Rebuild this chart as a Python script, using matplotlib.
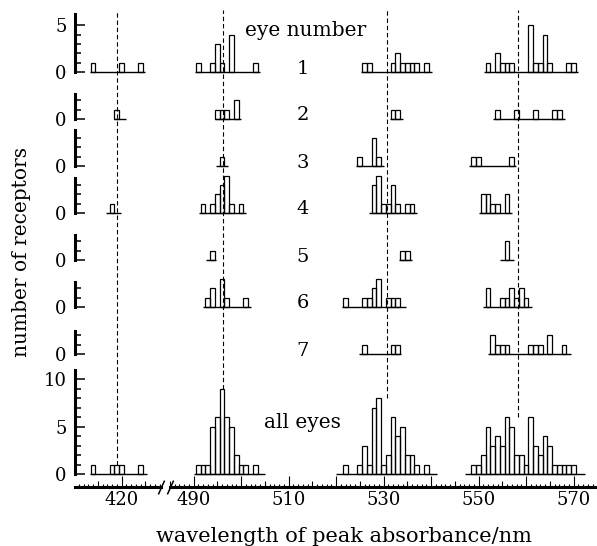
import matplotlib
matplotlib.use('Agg')
import matplotlib.pyplot as plt

plt.rcParams['font.family'] = 'DejaVu Serif'

# ---- data (wavelength of each bar in nm, and number of receptors) ----
eye_labels = ['1', '2', '3', '4', '5', '6', '7']
peak_nm = [419.0, 496.3, 530.8, 558.4]

blue_nm = [[414, 420, 424], [419], [], [418], [], [], []]
blue_n = [[1, 1, 1], [1], [], [1], [], [], []]
blue_span = [(413.3, 425.0), (418.5, 421.0), None, (416.8, 419.8), None, None, None]

rod_nm = [[491, 494, 495, 496, 498, 503],
          [495, 496, 497, 499],
          [496],
          [492, 494, 495, 496, 497, 498, 500],
          [494],
          [493, 494, 496, 497, 501],
          []]
rod_n = [[1, 1, 3, 1, 4, 1],
         [1, 1, 1, 2],
         [1],
         [1, 1, 2, 3, 4, 1, 1],
         [1],
         [1, 2, 3, 1, 1],
         []]
rod_span = [(490.4, 504.1), (494.5, 500.1), (494.8, 497.2), (491.2, 501.1),
            (492.7, 494.8), (492.0, 502.2), None]

green_nm = [[526, 527, 532, 533, 534, 535, 536, 537, 539],
            [532, 533],
            [525, 528, 529],
            [528, 529, 530, 531, 532, 533, 535, 536],
            [534, 535],
            [522, 526, 527, 528, 529, 531, 532, 533],
            [526, 532, 533]]
green_n = [[1, 1, 1, 2, 1, 1, 1, 1, 1],
           [1, 1],
           [1, 3, 1],
           [3, 4, 1, 1, 3, 1, 1, 1],
           [1, 1],
           [1, 1, 1, 2, 3, 1, 1, 1],
           [1, 1, 1]]
green_span = [(525.3, 540.2), (531.4, 534.2), (524.2, 530.2), (526.9, 537.1),
              (533.2, 536.0), (521.2, 534.8), (524.9, 533.7)]

red_nm = [[552, 554, 555, 556, 557, 561, 562, 563, 564, 565, 569, 570],
          [554, 558, 562, 566, 567],
          [549, 550, 557],
          [551, 552, 553, 554, 556],
          [556],
          [552, 555, 556, 557, 558, 559, 560],
          [553, 554, 555, 556, 561, 562, 563, 565, 568]]
red_n = [[1, 2, 1, 1, 1, 5, 1, 1, 4, 1, 1, 1],
         [1, 1, 1, 1, 1],
         [1, 1, 1],
         [2, 2, 1, 1, 2],
         [2],
         [2, 1, 1, 2, 1, 2, 1],
         [2, 1, 1, 1, 1, 1, 1, 2, 1]]
red_span = [(551.2, 571.0), (553.0, 568.2), (548.1, 557.9), (550.1, 557.1),
            (554.6, 557.4), (551.0, 561.2), (552.0, 569.5)]

all_blue_nm = [414, 418, 419, 420, 424]
all_blue_n = [1, 1, 1, 1, 1]
all_rod_nm = [491, 492, 493, 494, 495, 496, 497, 498, 499, 500, 501, 503]
all_rod_n = [1, 1, 1, 5, 6, 9, 6, 5, 2, 1, 1, 1]
all_green_nm = [522, 525, 526, 527, 528, 529, 530, 531, 532, 533, 534, 535, 536, 537, 539]
all_green_n = [1, 1, 3, 1, 7, 8, 1, 2, 6, 4, 5, 2, 2, 1, 1]
all_red_nm = list(range(549, 571))
all_red_n = [1, 1, 2, 5, 3, 4, 3, 6, 5, 2, 2, 1, 6, 3, 2, 4, 3, 1, 1, 1, 1, 1]
all_span = [(413.4, 425.3), (490.1, 505.1), (520.0, 541.2), (547.2, 572.4)]

xtick_labels = ['420', '490', '510', '530', '550', '570']

# ---- layout (pixels of the 597x546 picture) ----
W, H = 597, 546


def fx(px):
    return px / W


def fy(py):
    return 1 - py / H


PX_NM = 4.75
left_lim = (410.2, 428.3)
right_lim = (485.0, 574.8)
x_left0 = 121.5 + (left_lim[0] - 420) * PX_NM
x_right0 = 193.5 + (right_lim[0] - 490) * PX_NM
wl = (left_lim[1] - left_lim[0]) * PX_NM / W
wr = (right_lim[1] - right_lim[0]) * PX_NM / W

row_base = [72, 119, 166, 213, 260, 307, 354]
row_spine = [6.2, 2.7, 3.9, 3.8, 2.7, 2.7, 2.5]
row_tickmax = [5, 2, 3, 3, 2, 2, 2]
ppc = 9.3
all_base = 474
ppc_all = 9.46

fig = plt.figure(figsize=(5.97, 5.46), dpi=100)


def draw_groups(groups):
    for ax, nm, n, span in groups:
        if span is not None:
            ax.hlines(0, span[0], span[1], colors='black', linewidth=1.0,
                      clip_on=False)
        if nm:
            ax.bar(nm, n, width=1.0, fill=False, edgecolor='black',
                   linewidth=0.9, clip_on=False)


def make_row(base, ppc_, ytop, spine_top, majors, minors):
    h = ytop * ppc_ / H
    axL = fig.add_axes([fx(x_left0), fy(base), wl, h])
    axR = fig.add_axes([fx(x_right0), fy(base), wr, h])
    for ax, lim in [(axL, left_lim), (axR, right_lim)]:
        ax.set_xlim(lim)
        ax.set_ylim(0, ytop)
        ax.patch.set_visible(False)
        for s in ['top', 'right', 'bottom']:
            ax.spines[s].set_visible(False)
        ax.set_xticks([])
    axR.spines['left'].set_visible(False)
    axR.set_yticks([])
    axL.spines['left'].set_bounds(0, spine_top)
    axL.spines['left'].set_linewidth(2.2)
    axL.set_yticks(majors, [str(m) for m in majors])
    axL.set_yticks(minors, minor=True)
    axL.tick_params(axis='y', which='major', direction='in', length=7,
                    width=1.1, pad=6, labelsize=13)
    axL.tick_params(axis='y', which='minor', direction='in', length=4, width=1.1)
    return axL, axR


for i in range(len(eye_labels)):
    tmax = row_tickmax[i]
    majors = [0, 5] if tmax >= 5 else [0]
    minors = [t for t in range(1, tmax + 1) if t not in majors]
    axL, axR = make_row(row_base[i], ppc, 6.5, row_spine[i], majors, minors)
    draw_groups([(axL, blue_nm[i], blue_n[i], blue_span[i]),
                 (axR, rod_nm[i], rod_n[i], rod_span[i]),
                 (axR, green_nm[i], green_n[i], green_span[i]),
                 (axR, red_nm[i], red_n[i], red_span[i])])
    fig.text(fx(303), fy(row_base[i] - 3.5), eye_labels[i], ha='center',
             va='center', fontsize=14)

# all eyes row
axL, axR = make_row(all_base, ppc_all, 11.5, 11.0, [0, 5, 10],
                    [t for t in range(1, 11) if t not in (0, 5, 10)])
draw_groups([(axL, all_blue_nm, all_blue_n, all_span[0]),
             (axR, all_rod_nm, all_rod_n, all_span[1]),
             (axR, all_green_nm, all_green_n, all_span[2]),
             (axR, all_red_nm, all_red_n, all_span[3])])

# dashed lines at the mean peaks, up to the top of the figure
top_count = (all_base - 10) / ppc_all
for p, ax, n in zip(peak_nm, [axL, axR, axR, axR],
                    [all_blue_n, all_rod_n, all_green_n, all_red_n]):
    ax.plot([p, p], [max(n), top_count], color='black', linewidth=0.8,
            linestyle=(0, (4, 2.5)), clip_on=False)

# broken wavelength axis
axis_y = 486.5
for lim, x0, w, side in [(left_lim, x_left0, wl, 1), (right_lim, x_right0, wr, 0)]:
    labs = [t for t in xtick_labels if lim[0] <= int(t) <= lim[1]]
    tens = [v for v in range(410, 580, 10) if lim[0] <= v <= lim[1]]
    fives = [v for v in range(405, 580, 5) if lim[0] <= v <= lim[1] and v % 10]
    ones = [v for v in range(405, 580) if lim[0] <= v <= lim[1] and v % 5]
    ab = fig.add_axes([fx(x0), fy(axis_y), w, 15 / H])
    ab.set_xlim(lim)
    ab.set_ylim(0, 1)
    ab.patch.set_visible(False)
    for s in ['top', 'left', 'right']:
        ab.spines[s].set_visible(False)
    ab.spines['bottom'].set_linewidth(2.2)
    ab.set_yticks([])
    ab.set_xticks([int(t) for t in labs], labs)
    ab.set_xticks(tens, minor=True)
    ab.tick_params(axis='x', which='both', direction='in', length=8, width=0.8,
                   pad=3.5, labelsize=13)
    ab.plot([side], [0], transform=ab.transAxes, marker=[(-0.45, -1), (0.45, 1)],
            markersize=10, markeredgewidth=1.1, color='black', clip_on=False)

    at = fig.add_axes([fx(x0), fy(axis_y), w, 15 / H])
    at.set_xlim(lim)
    at.patch.set_visible(False)
    for s in at.spines.values():
        s.set_visible(False)
    at.set_yticks([])
    at.set_xticks(fives, [''] * len(fives))
    at.set_xticks(ones, minor=True)
    at.tick_params(axis='x', which='major', direction='in', length=4.3, width=0.8)
    at.tick_params(axis='x', which='minor', direction='in', length=2.4, width=0.8)

fig.text(fx(306), fy(30), 'eye number', ha='center', va='center', fontsize=14.5)
fig.text(fx(302), fy(423), 'all eyes', ha='center', va='center', fontsize=14.5)
fig.text(fx(22), fy(252), 'number of receptors', rotation=90, ha='center',
         va='center', fontsize=14.5)
fig.text(fx(344.5), fy(541.5), 'wavelength of peak absorbance/nm', ha='center',
         va='baseline', fontsize=15)

fig.savefig('out.png', dpi=100)
